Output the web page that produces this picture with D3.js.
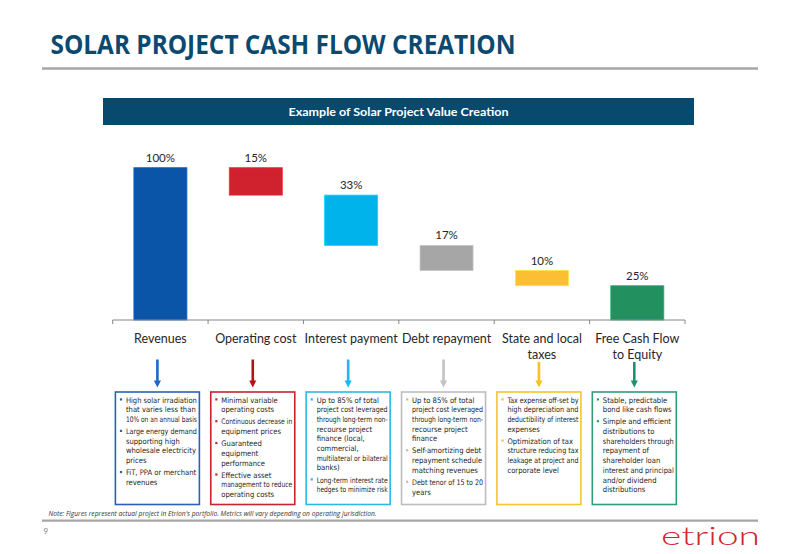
<!DOCTYPE html>
<html>
<head>
<meta charset="utf-8">
<script src="https://cdn.jsdelivr.net/npm/d3@7"></script>
<style>
  body { margin: 0; background: #fff; }
  svg { display: block; }
</style>
</head>
<body>
<svg class="cashflow-chart"></svg>
<script>
// categories and values
var categories = ["Revenues", "Operating cost", "Interest payment", "Debt repayment", "State and local taxes", "Free Cash Flow to Equity"];
var categoryLines = [["Revenues"], ["Operating cost"], ["Interest payment"], ["Debt repayment"], ["State and local", "taxes"], ["Free Cash Flow", "to Equity"]];
// drawn bar heights (% of revenues) and the labels printed on them
var barValues = [100, 18, 33, 16.5, 10, 22.5];
var valueLabels = ["100%", "15%", "33%", "17%", "10%", "25%"];
var yTicks = [0, 100];

var boxNotes = [
  [["High solar irradiation", "that varies less than", "10% on an annual basis"],
   ["Large energy demand", "supporting high", "wholesale electricity", "prices"],
   ["FiT, PPA or merchant", "revenues"]],
  [["Minimal variable", "operating costs"],
   ["Continuous decrease in", "equipment prices"],
   ["Guaranteed", "equipment", "performance"],
   ["Effective asset", "management to reduce", "operating costs"]],
  [["Up to 85% of total", "project cost leveraged", "through long-term non-", "recourse project", "finance (local,", "commercial,", "multilateral or bilateral", "banks)"],
   ["Long-term interest rate", "hedges to minimize risk"]],
  [["Up to 85% of total", "project cost leveraged", "through long-term non-", "recourse project", "finance"],
   ["Self-amortizing debt", "repayment schedule", "matching revenues"],
   ["Debt tenor of 15 to 20", "years"]],
  [["Tax expense off-set by", "high depreciation and", "deductibility of interest", "expenses"],
   ["Optimization of tax", "structure reducing tax", "leakage at project and", "corporate level"]],
  [["Stable, predictable", "bond like cash flows"],
   ["Simple and efficient", "distributions to", "shareholders through", "repayment of", "shareholder loan", "interest and principal", "and/or dividend", "distributions"]]
];

var barColors = ["#0a55a7", "#d0222e", "#00b3ea", "#a6a6a6", "#fcbf33", "#22905f"];
var arrowColors = ["#1f66c9", "#b3121a", "#1fb7ec", "#c3c3c3", "#f8c127", "#1f9172"];
var boxColors = ["#2e5fb8", "#c8242c", "#2bb8e6", "#bdbdbd", "#f4c52a", "#2f9c7c"];

var width = 800, height = 554;
var navy = "#0b4a70";

var svg = d3.select(".cashflow-chart")
  .attr("width", width)
  .attr("height", height);

// page header
svg.append("text")
  .attr("x", 50.5)
  .attr("y", 53.5)
  .attr("textLength", 465)
  .attr("lengthAdjust", "spacingAndGlyphs")
  .style("font-family", "'Open Sans', sans-serif")
  .style("font-weight", 700)
  .style("font-size", "26px")
  .style("fill", navy)
  .text("SOLAR PROJECT CASH FLOW CREATION");

svg.append("line")
  .attr("x1", 42).attr("x2", 758)
  .attr("y1", 68.5).attr("y2", 68.5)
  .style("stroke", "#a6a6a6")
  .style("stroke-width", 2.5);

svg.append("rect")
  .attr("x", 103).attr("y", 98)
  .attr("width", 591).attr("height", 27)
  .style("fill", "#08496e");

svg.append("text")
  .attr("x", 398.5)
  .attr("y", 115.5)
  .attr("text-anchor", "middle")
  .attr("textLength", 220)
  .attr("lengthAdjust", "spacingAndGlyphs")
  .style("font-family", "Lato, sans-serif")
  .style("font-weight", 700)
  .style("font-size", "12px")
  .style("fill", "#fff")
  .text("Example of Solar Project Value Creation");

// waterfall
var x = d3.scaleBand().domain(categories).range([112.7, 685]).padding(0);
var y = d3.scaleLinear().domain(d3.extent(yTicks)).range([320, 167.7]);
var barW = x.bandwidth() * 0.556;

var running = 0;
var bars = barValues.map(function(v, i) {
  var top, bottom;
  if (i === 0 || i === barValues.length - 1) {
    bottom = 0; top = v; running = v;
  } else {
    top = running; bottom = running - v; running = bottom;
  }
  return {cat: categories[i], top: top, bottom: bottom, label: valueLabels[i], color: barColors[i]};
});

var chart = svg.append("g");

chart.selectAll(".bar")
  .data(bars)
  .enter().append("rect")
  .attr("class", "bar")
  .attr("x", function(d) { return x(d.cat) + (x.bandwidth() - barW) / 2; })
  .attr("y", function(d) { return y(d.top); })
  .attr("width", barW)
  .attr("height", function(d) { return y(d.bottom) - y(d.top); })
  .style("fill", function(d) { return d.color; })
  .style("stroke", function(d) { return d3.color(d.color).brighter(0.5); })
  .style("stroke-width", 0.8);

chart.selectAll(".value")
  .data(bars)
  .enter().append("text")
  .attr("class", "value")
  .attr("x", function(d) { return x(d.cat) + x.bandwidth() / 2; })
  .attr("y", function(d) { return y(d.top) - 6; })
  .attr("text-anchor", "middle")
  .style("font-family", "Lato, sans-serif")
  .style("font-size", "11.5px")
  .style("fill", "#262626")
  .text(function(d) { return d.label; });

// category axis with ticks on the band edges
var axisY = y(0);
var edges = categories.map(function(c) { return x(c); }).concat([x.range()[1]]);

chart.append("line")
  .attr("x1", x.range()[0]).attr("x2", x.range()[1])
  .attr("y1", axisY).attr("y2", axisY)
  .style("stroke", "#868686")
  .style("stroke-width", 1);

chart.selectAll(".tick")
  .data(edges)
  .enter().append("line")
  .attr("class", "tick")
  .attr("x1", function(d) { return d; }).attr("x2", function(d) { return d; })
  .attr("y1", axisY).attr("y2", axisY + 4)
  .style("stroke", "#868686");

var catLabels = chart.selectAll(".cat")
  .data(categories)
  .enter().append("text")
  .attr("class", "cat")
  .attr("text-anchor", "middle")
  .style("font-family", "Lato, sans-serif")
  .style("font-size", "12.5px")
  .style("fill", "#262626");

catLabels.selectAll("tspan")
  .data(function(d, i) { return categoryLines[i].map(function(t) { return {t: t, c: d}; }); })
  .enter().append("tspan")
  .attr("x", function(d) { return x(d.c) + x.bandwidth() / 2; })
  .attr("y", function(d, j) { return axisY + 22.5 + j * 16; })
  .text(function(d) { return d.t; });

// arrows down to the note boxes
function colX(i) { return x(categories[i]) + x.bandwidth() / 2 - 3; }

var arrows = chart.selectAll(".arrow")
  .data(categories)
  .enter().append("g")
  .attr("class", "arrow");

arrows.append("line")
  .attr("x1", function(d, i) { return colX(i); })
  .attr("x2", function(d, i) { return colX(i); })
  .attr("y1", function(d, i) { return categoryLines[i].length > 1 ? 362 : 359.5; })
  .attr("y2", 381)
  .style("stroke", function(d, i) { return arrowColors[i]; })
  .style("stroke-width", 2.6);

arrows.append("path")
  .attr("d", function(d, i) {
    var cx = colX(i);
    return "M" + (cx - 3.6) + ",380.5L" + (cx + 3.6) + ",380.5L" + cx + ",387.5Z";
  })
  .style("fill", function(d, i) { return arrowColors[i]; });

// note boxes
var boxW = 84, boxTop = 392, boxBottom = 504.5;
var lineH = 9.7, bulletGap = 2.4;

var boxes = chart.selectAll(".note")
  .data(boxNotes)
  .enter().append("g")
  .attr("class", "note")
  .attr("transform", function(d, i) { return "translate(" + (colX(i) - boxW / 2) + "," + boxTop + ")"; });

boxes.append("rect")
  .attr("width", boxW)
  .attr("height", boxBottom - boxTop)
  .style("fill", "#fff")
  .style("stroke", function(d, i) { return boxColors[i]; })
  .style("stroke-width", 1.6);

boxes.each(function(bullets, i) {
  var g = d3.select(this);
  var yy = 10.5;
  bullets.forEach(function(lines) {
    g.append("rect")
      .attr("x", 4.5).attr("y", yy - 4.2)
      .attr("width", 2.2).attr("height", 2.2)
      .style("fill", boxColors[i]);
    lines.forEach(function(t) {
      var txt = g.append("text")
        .attr("x", 10.5)
        .attr("y", yy)
        .style("font-family", "'Liberation Sans Narrow', 'DejaVu Sans Condensed', sans-serif")
        .style("font-size", "7.6px")
        .style("fill", "#1e1e1e")
        .text(t);
      if (txt.node().getComputedTextLength() > boxW - 13) {
        txt.attr("textLength", boxW - 13).attr("lengthAdjust", "spacingAndGlyphs");
      }
      yy += lineH;
    });
    yy += bulletGap;
  });
});

// footer
svg.append("text")
  .attr("x", 48.5)
  .attr("y", 516)
  .attr("textLength", 328)
  .attr("lengthAdjust", "spacingAndGlyphs")
  .style("font-family", "'Liberation Sans Narrow', 'Open Sans', sans-serif")
  .style("font-style", "italic")
  .style("font-size", "6.8px")
  .style("fill", "#333")
  .text("Note: Figures represent actual project in Etrion's portfolio. Metrics will vary depending on operating jurisdiction.");

svg.append("line")
  .attr("x1", 42).attr("x2", 758)
  .attr("y1", 520.7).attr("y2", 520.7)
  .style("stroke", "#a6a6a6")
  .style("stroke-width", 2.2);

svg.append("text")
  .attr("x", 43.5)
  .attr("y", 534)
  .style("font-family", "Lato, sans-serif")
  .style("font-size", "8px")
  .style("fill", "#7f7f7f")
  .text("9");

svg.append("text")
  .attr("x", 661)
  .attr("y", 544.5)
  .attr("textLength", 99)
  .attr("lengthAdjust", "spacingAndGlyphs")
  .style("font-family", "Lato, sans-serif")
  .style("font-weight", 300)
  .style("font-size", "25px")
  .style("fill", "#d0262e")
  .text("etrion");
</script>
</body>
</html>
